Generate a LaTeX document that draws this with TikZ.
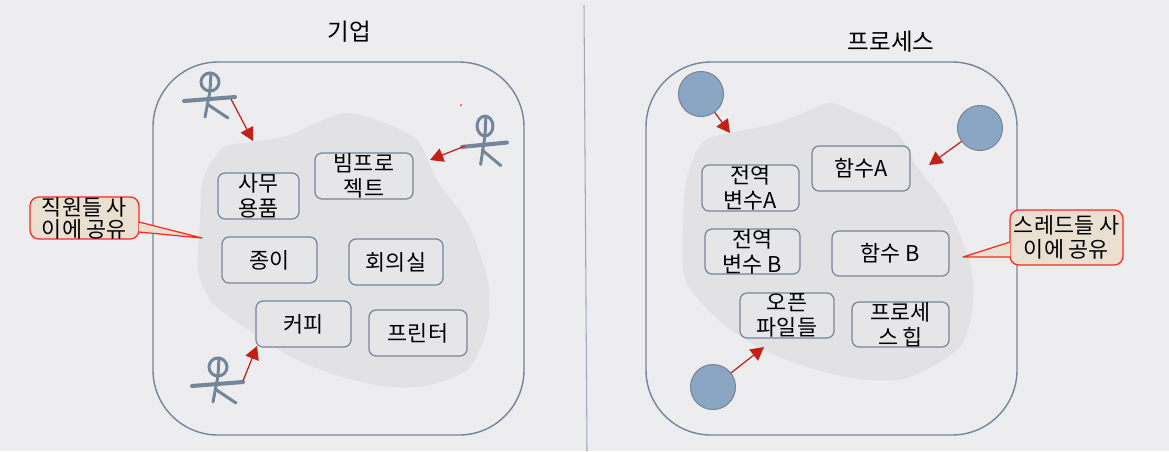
\documentclass[tikz,border=0pt]{standalone}
\usepackage{fontspec}
\setmainfont{Noto Sans CJK KR}
\usetikzlibrary{arrows.meta}
\definecolor{pagegray}{HTML}{EDEDEF}
\definecolor{blobgray}{HTML}{E2E2E4}
\definecolor{slateline}{HTML}{74869A}
\definecolor{threadblue}{HTML}{8BA6C3}
\definecolor{calloutfill}{HTML}{E9E0D2}
\definecolor{calloutline}{HTML}{FA2A1E}
\definecolor{arrowred}{HTML}{C4201A}
\tikzset{
    itembox/.style={draw=slateline, line width=0.7pt, rounded corners=4pt, fill=pagegray!40!blobgray, inner sep=0pt, align=center, font=\fontsize{12.4}{14.2}\selectfont},
    titletext/.style={font=\fontsize{13.4}{16}\selectfont, inner sep=0pt},
    calloutbox/.style={draw=calloutline, line width=0.7pt, fill=calloutfill, rounded corners=5pt, inner sep=0pt, align=center, font=\fontsize{12.4}{14}\selectfont},
    calloutedge/.style={draw=calloutline, line width=0.7pt, line join=round},
    thread/.style={circle, draw=slateline, line width=0.6pt, fill=threadblue, minimum size=0.9cm, inner sep=0pt},
    accessarrow/.style={draw=arrowred, line width=0.7pt, -{Triangle[length=7.5pt,width=8pt]}},
    pics/stickman/.style={code={
        \draw[slateline, line width=1.7pt, line cap=round] (0,0) ellipse [x radius=9, y radius=9];
        \draw[slateline, line width=1.7pt, line cap=round] (1,-9) -- (0,9) -- (-5,35);
        \draw[slateline, line width=1.7pt, line cap=round] (-3,22) -- (18,36);
        \draw[slateline, line width=2.3pt, line cap=round] (-26,19) -- (25,15);
    }},
}
\begin{document}
\begin{tikzpicture}[x=0.02cm, y=-0.02cm]
    \useasboundingbox[fill=pagegray] (0,0) rectangle (1169,451);
    % divider
    \draw[slateline!70, line width=0.6pt] (584,5) -- (587,451);
    \node[titletext] (companytitle) at (349,32) {기업};
    \node[titletext] (processtitle) at (891,42) {프로세스};
    % outer frames
    \draw[slateline, line width=0.8pt, rounded corners=1.3cm] (153,62) rectangle (524,435);
    \draw[slateline, line width=0.8pt, rounded corners=1.3cm] (646,62) rectangle (1017,435);
    % shared regions
    \fill[blobgray] plot[smooth cycle, tension=0.5] coordinates {(200,223) (203,180) (223,148) (253,142) (290,135) (323,120) (347,113) (377,120) (417,140) (437,180) (467,223) (487,277) (488,323) (470,367) (430,385) (390,387) (343,377) (297,360) (253,333) (213,303) (198,270)};
    \fill[blobgray] plot[smooth cycle, tension=0.5] coordinates {(683,223) (687,177) (703,142) (730,133) (770,125) (803,113) (830,103) (857,113) (897,133) (917,167) (947,207) (970,263) (973,303) (960,347) (910,377) (867,380) (817,370) (770,353) (727,327) (693,293) (683,270)};
    % left items
    \node[itembox, minimum width=1.62cm, minimum height=0.92cm] (office) at (258.5,196) {사무\\용품};
    \node[itembox, minimum width=1.96cm, minimum height=0.92cm] (projector) at (364,176) {빔프로\\젝트};
    \node[itembox, minimum width=1.9cm, minimum height=0.92cm] (paper) at (269.5,260) {종이};
    \node[itembox, minimum width=1.88cm, minimum height=0.92cm] (meeting) at (396,262) {회의실};
    \node[itembox, minimum width=1.9cm, minimum height=0.92cm] (coffee) at (303.5,324) {커피};
    \node[itembox, minimum width=1.96cm, minimum height=0.92cm] (printer) at (418,333) {프린터};
    % right items
    \node[itembox, minimum width=1.94cm, minimum height=0.92cm] (globala) at (750.5,188) {전역\\변수A};
    \node[itembox, minimum width=1.96cm, minimum height=0.9cm] (funca) at (861,168.5) {함수A};
    \node[itembox, minimum width=1.9cm, minimum height=0.9cm] (globalb) at (752.5,251.5) {전역\\변수 B};
    \node[itembox, minimum width=2.34cm, minimum height=0.9cm] (funcb) at (890.5,253.5) {함수 B};
    \node[itembox, minimum width=1.88cm, minimum height=0.9cm] (openfiles) at (787,315.5) {오픈\\파일들};
    \node[itembox, minimum width=1.94cm, minimum height=0.9cm] (heap) at (900.5,324.5) {프로세\\스 힙};
    % employees
    \pic at (210,82) {stickman};
    \pic[xscale=0.88, yscale=1.1] at (485,126) {stickman};
    \pic at (218,367) {stickman};
    \fill[calloutline] (461,105) circle (1);
    % threads
    \node[thread] (threada) at (701,94) {};
    \node[thread] (threadb) at (980,128) {};
    \node[thread] (threadc) at (713,387) {};
    % arrows
    \coordinate (mana) at (231,99);
    \coordinate (manb) at (465,146);
    \coordinate (manc) at (243,381);
    \coordinate (taila) at (253,141);
    \coordinate (tailb) at (430,160);
    \coordinate (tailc) at (257,346);
    \coordinate (tipa) at (730,133);
    \coordinate (tipb) at (929,165);
    \coordinate (tipc) at (764,347);
    \draw[accessarrow] (mana) -- (taila);
    \draw[accessarrow] (manb) -- (tailb);
    \draw[accessarrow] (manc) -- (tailc);
    \draw[accessarrow] (threada) -- (tipa);
    \draw[accessarrow] (threadb) -- (tipb);
    \draw[accessarrow] (threadc) -- (tipc);
    % callouts
    \node[calloutbox, minimum width=2.18cm, minimum height=0.84cm, font=\fontsize{12.4}{12.6}\selectfont] (sharedstaff) at (84.5,218) {직원들 사\\이에 공유};
    \node[calloutbox, minimum width=2.26cm, minimum height=1.1cm] (sharedthread) at (1066.5,237.5) {스레드들 사\\이에 공유};
    \coordinate (stafftip) at (202,238);
    \coordinate (threadtip) at (963,257);
    \coordinate (staffup) at (139,222);
    \coordinate (stafflow) at (139,232);
    \coordinate (threadup) at (1010,242);
    \coordinate (threadlow) at (1010,257);
    \fill[calloutfill] (staffup) -- (stafftip) -- (stafflow) -- cycle;
    \fill[calloutfill] (threadup) -- (threadtip) -- (threadlow) -- cycle;
    \draw[calloutedge] (staffup) -- (stafftip) -- (stafflow);
    \draw[calloutedge] (threadup) -- (threadtip) -- (threadlow);
\end{tikzpicture}
\end{document}
